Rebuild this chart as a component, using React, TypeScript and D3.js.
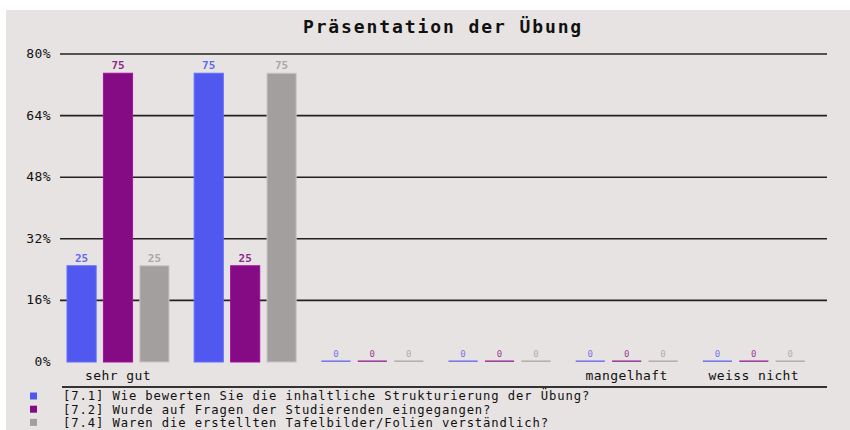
import React from 'react';
import * as d3 from 'd3';

// chart data
const categoryIds = ['c1', 'c2', 'c3', 'c4', 'c5', 'c6'];
const categoryLabels = ['sehr gut', '', '', '', 'mangelhaft', 'weiss nicht'];
const seriesNames = [
  '[7.1] Wie bewerten Sie die inhaltliche Strukturierung der Übung?',
  '[7.2] Wurde auf Fragen der Studierenden eingegangen?',
  '[7.4] Waren die erstellten Tafelbilder/Folien verständlich?',
];
const seriesColors = ['#5158ef', '#850b84', '#a29f9e'];
const values71 = [25, 75, 0, 0, 0, 0];
const values72 = [75, 25, 0, 0, 0, 0];
const values74 = [25, 75, 0, 0, 0, 0];
const yTicks = [0, 16, 32, 48, 64, 80];
const title = 'Präsentation der Übung';

const allValues = [values71, values72, values74];

const W = 850;
const H = 430;
const mono = '"DejaVu Sans Mono", "Liberation Mono", monospace';

export default function App() {
  const x0 = d3.scaleBand<string>().domain(categoryIds).range([62, 825]);
  const x1 = d3
    .scaleBand<number>()
    .domain(d3.range(seriesNames.length))
    .range([5, 107])
    .paddingInner(0.2);
  const y = d3.scaleLinear().domain([0, 80]).range([362, 54]);

  return (
    <svg
      width={W}
      height={H}
      style={{ position: 'absolute', left: 0, top: 0, display: 'block' }}
    >
      <rect x={0} y={0} width={W} height={H} fill="#ffffff" />
      <rect x={6} y={10} width={W - 6} height={H - 10} fill="#e7e3e2" />

      <text
        x={443}
        y={33}
        textAnchor="middle"
        fontFamily={mono}
        fontWeight="bold"
        fontSize={18}
        letterSpacing={1.9}
        fill="#111"
      >
        {title}
      </text>

      {/* grid + y labels */}
      {yTicks.map((t) => (
        <g key={t}>
          {t > 0 && (
            <line x1={60} x2={827} y1={y(t)} y2={y(t)} stroke="#222" strokeWidth={1.6} />
          )}
          <text
            x={51}
            y={y(t) + 4}
            textAnchor="end"
            fontFamily={mono}
            fontSize={13}
            letterSpacing={0.4}
            fill="#111"
          >
            {t}%
          </text>
        </g>
      ))}

      {/* bars */}
      {categoryIds.map((c, ci) => (
        <g key={c} transform={`translate(${x0(c)},0)`}>
          {allValues.map((vals, si) => {
            const v = vals[ci];
            const bx = x1(si)!;
            const bw = x1.bandwidth();
            const h = Math.max(y(0) - y(v), 1.6);
            return (
              <g key={si}>
                <rect
                  x={bx}
                  y={y(0) - h}
                  width={bw}
                  height={h}
                  fill={seriesColors[si]}
                  fillOpacity={v === 0 ? 0.75 : 1}
                  stroke={v === 0 ? 'none' : d3.color(seriesColors[si])!.brighter(0.6).toString()}
                  strokeWidth={1}
                />
                <text
                  x={bx + bw / 2}
                  y={y(v) - (v === 0 ? 5 : 4)}
                  textAnchor="middle"
                  fontFamily={mono}
                  fontSize={v === 0 ? 9 : 11}
                  fontWeight={v === 0 ? 'normal' : 'bold'}
                  fill={seriesColors[si]}
                  fillOpacity={v === 0 ? 0.8 : 0.9}
                >
                  {v}
                </text>
              </g>
            );
          })}
          <text
            x={x1(0)! + (x1(seriesNames.length - 1)! + x1.bandwidth() - x1(0)!) / 2}
            y={380}
            textAnchor="middle"
            fontFamily={mono}
            fontSize={13}
            letterSpacing={0.4}
            fill="#111"
          >
            {categoryLabels[ci]}
          </text>
        </g>
      ))}

      {/* bottom axis line */}
      <line x1={62} x2={827} y1={387} y2={387} stroke="#333" strokeWidth={2} />

      {/* legend */}
      {seriesNames.map((name, i) => (
        <g key={name} transform={`translate(0,${396 + i * 13.2})`}>
          <rect x={30} y={-3.5} width={7} height={7} fill={seriesColors[i]} />
          <text
            x={63}
            y={4.3}
            fontFamily={mono}
            fontSize={12.2}
            letterSpacing={0.9}
            fill="#111"
          >
            {name}
          </text>
        </g>
      ))}
    </svg>
  );
}
